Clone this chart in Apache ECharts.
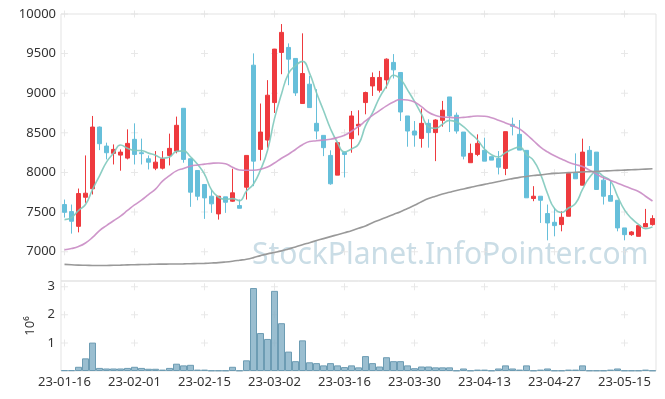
<!DOCTYPE html>
<html>
<head>
<meta charset="utf-8">
<script src="https://cdn.jsdelivr.net/npm/echarts@6.0.0/dist/echarts.min.js"></script>
<style>
  html, body { margin: 0; padding: 0; background: #fff; }
  #chart-container { width: 665px; height: 399px; }
</style>
</head>
<body>
<div id="chart-container"></div>
<script>
// trading days (KRX), YY-MM-DD
const dates = [
  "23-01-16", "23-01-17", "23-01-18", "23-01-19", "23-01-20", "23-01-25", "23-01-26", "23-01-27", "23-01-30", "23-01-31",
  "23-02-01", "23-02-02", "23-02-03", "23-02-06", "23-02-07", "23-02-08", "23-02-09", "23-02-10", "23-02-13", "23-02-14",
  "23-02-15", "23-02-16", "23-02-17", "23-02-20", "23-02-21", "23-02-22", "23-02-23", "23-02-24", "23-02-27", "23-02-28",
  "23-03-02", "23-03-03", "23-03-06", "23-03-07", "23-03-08", "23-03-09", "23-03-10", "23-03-13", "23-03-14", "23-03-15",
  "23-03-16", "23-03-17", "23-03-20", "23-03-21", "23-03-22", "23-03-23", "23-03-24", "23-03-27", "23-03-28", "23-03-29",
  "23-03-30", "23-03-31", "23-04-03", "23-04-04", "23-04-05", "23-04-06", "23-04-07", "23-04-10", "23-04-11", "23-04-12",
  "23-04-13", "23-04-14", "23-04-17", "23-04-18", "23-04-19", "23-04-20", "23-04-21", "23-04-24", "23-04-25", "23-04-26",
  "23-04-27", "23-04-28", "23-05-02", "23-05-03", "23-05-04", "23-05-08", "23-05-09", "23-05-10", "23-05-11", "23-05-12",
  "23-05-15", "23-05-16", "23-05-17", "23-05-18", "23-05-19"
];

// [open, close, low, high]
const ohlc = [
  [7595, 7497, 7430, 7658], [7506, 7384, 7228, 7595], [7320, 7734, 7244, 7797], [7687, 7738, 7617, 8215],
  [7794, 8573, 7722, 8713], [8573, 8363, 8282, 8580], [8333, 8249, 8165, 8376], [8241, 8291, 8101, 8354],
  [8219, 8257, 8022, 8291], [8181, 8367, 8165, 8544], [8418, 8228, 8101, 8620], [8249, 8237, 8101, 8427],
  [8173, 8130, 8038, 8215], [8054, 8130, 8029, 8270], [8054, 8173, 8038, 8270], [8215, 8304, 8089, 8490],
  [8270, 8595, 8241, 8705], [8810, 8165, 8123, 8810], [8173, 7751, 7566, 8173], [8025, 7700, 7649, 8025],
  [7848, 7679, 7414, 7848], [7700, 7604, 7490, 7785], [7477, 7700, 7405, 7700], [7692, 7624, 7490, 7692],
  [7637, 7743, 7629, 8047], [7582, 7548, 7548, 7658], [7814, 8215, 7658, 8215], [9354, 8143, 7827, 9503],
  [8291, 8510, 8152, 8870], [8409, 8975, 8313, 9165], [8882, 9557, 8751, 9560], [9515, 9768, 9240, 9873],
  [9578, 9430, 9101, 9629], [9439, 9004, 8966, 9439], [8870, 9249, 8870, 9756], [9114, 8819, 8819, 9219],
  [8620, 8523, 8418, 9051], [8468, 8313, 8206, 8468], [8215, 7857, 7845, 8279], [7966, 8376, 7966, 8376],
  [8253, 8228, 7937, 8266], [8427, 8713, 8249, 8776], [8586, 8608, 8468, 8785], [8882, 9009, 8734, 9020],
  [9092, 9199, 8966, 9262], [9038, 9199, 9009, 9282], [9168, 9430, 9060, 9440], [9389, 9295, 9186, 9494],
  [9262, 8763, 8649, 9262], [8713, 8523, 8325, 8713], [8523, 8472, 8325, 8649], [8430, 8620, 8313, 8806],
  [8620, 8503, 8313, 8671], [8503, 8662, 8143, 8671], [8658, 8785, 8578, 8903], [8953, 8713, 8510, 8953],
  [8722, 8523, 8490, 8756], [8510, 8206, 8165, 8510], [8123, 8241, 8123, 8363], [8228, 8367, 8206, 8481],
  [8279, 8143, 8143, 8439], [8199, 8156, 8156, 8199], [8177, 8067, 7975, 8270], [8051, 8515, 7966, 8515],
  [8608, 8582, 8468, 8692], [8481, 8282, 8282, 8662], [8279, 7680, 7680, 8279], [7671, 7700, 7637, 7827],
  [7700, 7649, 7363, 7700], [7481, 7363, 7143, 7595], [7371, 7329, 7194, 7553], [7342, 7434, 7257, 7510],
  [7447, 7987, 7447, 7987], [7996, 7920, 7920, 8241], [7839, 8257, 7839, 8427], [8279, 8089, 8089, 8333],
  [8257, 7785, 7785, 8257], [7903, 7700, 7595, 7953], [7709, 7637, 7637, 7890], [7649, 7300, 7257, 7649],
  [7300, 7215, 7143, 7300], [7215, 7249, 7200, 7260], [7194, 7329, 7194, 7329], [7313, 7355, 7313, 7540],
  [7342, 7418, 7329, 7460]
];

// volume, millions of shares
const volumes = [
  0.03, 0.03, 0.15, 0.45, 1.01, 0.11, 0.09, 0.09, 0.09, 0.11,
  0.15, 0.11, 0.08, 0.08, 0.05, 0.11, 0.26, 0.20, 0.22, 0.05,
  0.05, 0.02, 0.02, 0.02, 0.15, 0.02, 0.38, 2.95, 1.35, 1.14,
  2.85, 1.70, 0.69, 0.35, 1.09, 0.31, 0.28, 0.20, 0.28, 0.20,
  0.14, 0.20, 0.13, 0.53, 0.28, 0.16, 0.49, 0.35, 0.35, 0.20,
  0.10, 0.16, 0.16, 0.13, 0.13, 0.13, 0.02, 0.09, 0.02, 0.05,
  0.05, 0.02, 0.09, 0.20, 0.09, 0.05, 0.20, 0.02, 0.05, 0.09,
  0.02, 0.02, 0.05, 0.05, 0.20, 0.02, 0.02, 0.02, 0.05, 0.09,
  0.02, 0.02, 0.02, 0.05, 0.02
];

// first 4 MA5 points depend on days before the window
const ma5Head = [7405, 7430, 7520, 7595];

const ma20 = [
  7025, 7040, 7065, 7110, 7180, 7265, 7330, 7390, 7450, 7520,
  7590, 7650, 7720, 7790, 7890, 7960, 8020, 8050, 8080, 8095,
  8105, 8115, 8120, 8110, 8065, 8032, 8028, 8028, 8040, 8070,
  8120, 8180, 8230, 8290, 8350, 8390, 8400, 8410, 8420, 8440,
  8470, 8520, 8580, 8650, 8720, 8780, 8840, 8890, 8920, 8915,
  8890, 8830, 8760, 8720, 8700, 8695, 8690, 8695, 8705, 8713,
  8710, 8690, 8660, 8625, 8590, 8550, 8480, 8400, 8320, 8260,
  8210, 8170, 8130, 8100, 8075, 8030, 7980, 7933, 7900, 7865,
  7830, 7795, 7760, 7700, 7640
];

const ma120 = [
  6840, 6835, 6830, 6828, 6826, 6825, 6826, 6828, 6830, 6833,
  6836, 6838, 6840, 6842, 6843, 6844, 6845, 6846, 6848, 6850,
  6853, 6857, 6862, 6870, 6880, 6892, 6905, 6925, 6950, 6972,
  6990, 7010, 7035, 7060, 7088, 7114, 7140, 7165, 7190, 7215,
  7240, 7265, 7295, 7325, 7365, 7400, 7435, 7470, 7505, 7545,
  7585, 7630, 7670, 7700, 7728, 7750, 7772, 7792, 7812, 7832,
  7850, 7866, 7885, 7905, 7922, 7938, 7950, 7962, 7970, 7980,
  7988, 7994, 7998, 8002, 8006, 8010, 8014, 8018, 8022, 8026,
  8030, 8034, 8038, 8042, 8046
];

const priceTicks = [7000, 7500, 8000, 8500, 9000, 9500, 10000];
const volumeTicks = [1, 2, 3];
const labelEvery = 10;

const UP = "#ee3a3e";
const DOWN = "#66bfda";
const FONT = "Noto Sans";

// 5-day average of closes
const closes = ohlc.map((d) => d[1]);
const ma5 = closes.map((c, i) => {
  if (i < 4) return ma5Head[i];
  let s = 0;
  for (let k = i - 4; k <= i; k++) s += closes[k];
  return Math.round(s / 5);
});

// little "+" marks where the grid lines would cross
const labelIdx = dates.map((d, i) => i).filter((i) => i % labelEvery === 0);
const priceCrosses = [];
labelIdx.forEach((i) => priceTicks.forEach((v) => priceCrosses.push([i, v])));
const volCrosses = [];
labelIdx.forEach((i) => volumeTicks.forEach((v) => volCrosses.push([i, v])));
const PLUS = "path://M3,0H4V3H7V4H4V7H3V4H0V3H3Z";

const chartContainer = document.getElementById("chart-container");
const myChart = echarts.init(chartContainer, null, { renderer: "canvas" });

const option = {
  animation: false,
  backgroundColor: "#fff",
  textStyle: { fontFamily: FONT },
  grid: [
    { left: 61, right: 9, top: 14, height: 267, show: true, borderColor: "#e3e3e3", borderWidth: 1 },
    { left: 61, right: 9, top: 281, height: 90, show: true, borderColor: "#e3e3e3", borderWidth: 1 },
  ],
  graphic: [
    {
      type: "text",
      left: 252,
      top: 240,
      z: 0,
      style: {
        text: "StockPlanet.InfoPointer.com",
        font: "30px " + FONT,
        fill: "#cadde6",
      },
    },
  ],
  xAxis: [
    {
      type: "category",
      gridIndex: 0,
      data: dates,
      boundaryGap: true,
      axisLine: { show: false },
      axisTick: { show: false },
      axisLabel: { show: false },
      splitLine: { show: false },
    },
    {
      type: "category",
      gridIndex: 1,
      data: dates,
      boundaryGap: true,
      axisLine: { show: false },
      axisTick: { show: false },
      axisLabel: { interval: labelEvery - 1, color: "#333", fontSize: 13, margin: 5 },
      splitLine: { show: false },
    },
  ],
  yAxis: [
    {
      type: "value",
      gridIndex: 0,
      min: 6630,
      max: 10000,
      axisLine: { show: false },
      axisTick: { show: false, customValues: priceTicks },
      axisLabel: {
        customValues: priceTicks,
        formatter: (v) => String(v),
        color: "#333",
        fontSize: 13,
        margin: 5,
      },
      splitLine: { show: false },
    },
    {
      type: "value",
      gridIndex: 1,
      min: 0,
      max: 3.2,
      name: "10\u2076",
      nameLocation: "middle",
      nameGap: 17,
      nameRotate: 90,
      nameTextStyle: { color: "#333", fontSize: 13 },
      axisLine: { show: false },
      axisTick: { show: false, customValues: volumeTicks },
      axisLabel: {
        customValues: volumeTicks,
        formatter: (v) => String(v),
        color: "#333",
        fontSize: 13,
        margin: 6,
      },
      splitLine: { show: false },
    },
  ],
  series: [
    {
      name: "grid marks",
      type: "scatter",
      xAxisIndex: 0,
      yAxisIndex: 0,
      data: priceCrosses,
      symbol: PLUS,
      symbolSize: 7,
      itemStyle: { color: "#e2e2e2" },
      silent: true,
      z: 1,
    },
    {
      name: "grid marks vol",
      type: "scatter",
      xAxisIndex: 1,
      yAxisIndex: 1,
      data: volCrosses,
      symbol: PLUS,
      symbolSize: 7,
      itemStyle: { color: "#e2e2e2" },
      silent: true,
      z: 1,
    },
    {
      name: "Price",
      type: "candlestick",
      xAxisIndex: 0,
      yAxisIndex: 0,
      data: ohlc,
      barWidth: 5,
      itemStyle: {
        color: UP,
        color0: DOWN,
        borderColor: UP,
        borderColor0: DOWN,
        borderWidth: 1,
      },
      z: 3,
    },
    {
      name: "MA5",
      type: "line",
      xAxisIndex: 0,
      yAxisIndex: 0,
      data: ma5,
      smooth: true,
      showSymbol: false,
      lineStyle: { color: "#7fc9bc", width: 1.6, opacity: 0.9 },
      z: 4,
    },
    {
      name: "MA20",
      type: "line",
      xAxisIndex: 0,
      yAxisIndex: 0,
      data: ma20,
      smooth: true,
      showSymbol: false,
      lineStyle: { color: "#c98bc4", width: 1.6, opacity: 0.9 },
      z: 4,
    },
    {
      name: "MA120",
      type: "line",
      xAxisIndex: 0,
      yAxisIndex: 0,
      data: ma120,
      smooth: true,
      showSymbol: false,
      lineStyle: { color: "#999999", width: 1.6 },
      z: 4,
    },
    {
      name: "Volume",
      type: "bar",
      xAxisIndex: 1,
      yAxisIndex: 1,
      data: volumes,
      barCategoryGap: 0,
      itemStyle: { color: "rgba(129,174,196,0.8)", borderColor: "#6d9cb3", borderWidth: 1 },
      z: 3,
    },
  ],
};

myChart.setOption(option);
</script>
</body>
</html>
